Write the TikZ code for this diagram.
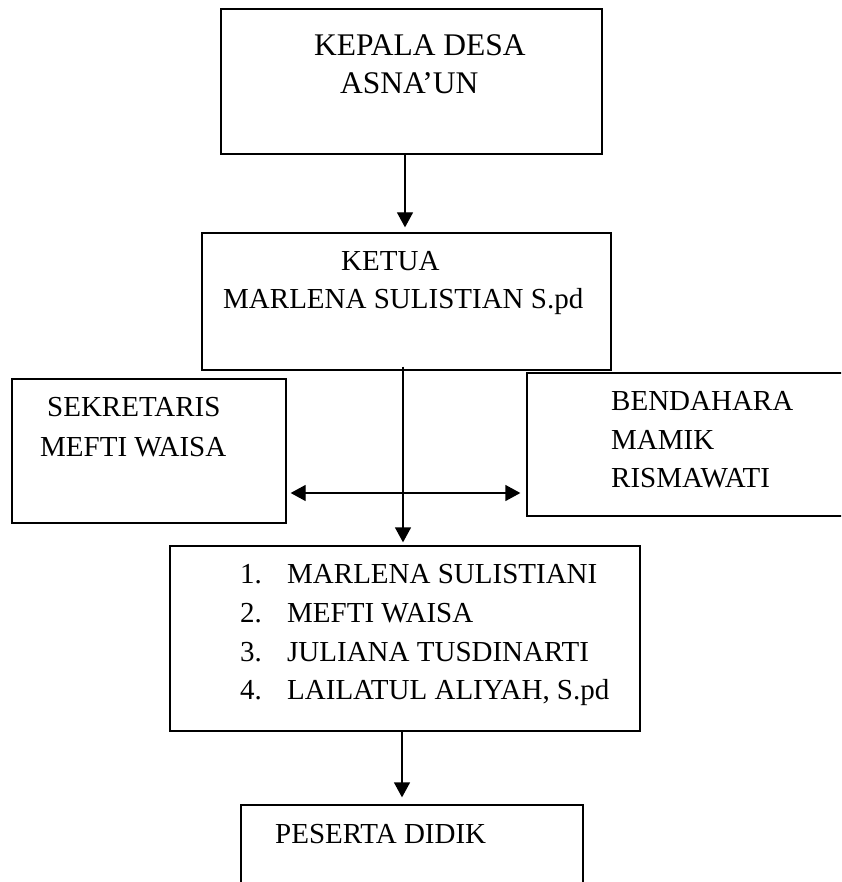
\documentclass[tikz,border=0pt]{standalone}
\usepackage{fontspec}
\setmainfont{Liberation Serif}
\usetikzlibrary{arrows.meta}
\tikzset{
	kotak/.style={draw, line width=1.3pt, inner sep=0pt},
	teks/.style={anchor=base west, inner sep=0pt, font=\fontsize{29pt}{39pt}\selectfont},
	teksbesar/.style={teks, font=\fontsize{31.5pt}{40pt}\selectfont},
	panah/.style={line width=1.3pt, -{Triangle[length=15pt,width=16pt]}},
	panahdua/.style={line width=1.3pt, {Triangle[length=15pt,width=16pt]}-{Triangle[length=15pt,width=16pt]}}
}
\begin{document}
\begin{tikzpicture}[x=1pt, y=-1pt]
	\useasboundingbox (0,0) rectangle (841,882);
	\clip (0,0) rectangle (841,882);
	\fill[white] (0,0) rectangle (841,882);
	% Kotak
	\node[kotak, minimum width=381pt, minimum height=145pt] (kepala) at (411.5,81.5) {};
	\node[kotak, minimum width=409pt, minimum height=137pt] (ketua) at (406.5,301.5) {};
	\node[kotak, minimum width=274pt, minimum height=144pt] (sekretaris) at (149,451) {};
	\node[kotak, minimum width=373pt, minimum height=143pt] (bendahara) at (713.5,444.5) {};
	\node[kotak, minimum width=470pt, minimum height=185pt] (anggota) at (405,638.5) {};
	\node[kotak, minimum width=342pt, minimum height=125pt] (peserta) at (412,867.5) {};
	% Teks kepala desa
	\node[teksbesar] (kepala1) at (314,56) {KEPALA DESA};
	\node[teksbesar] (kepala2) at (340,94) {ASNA’UN};
	% Teks ketua
	\node[teks] (ketua1) at (341,271) {KETUA};
	\node[teks] (ketua2) at (223,308) {MARLENA SULISTIAN S.pd};
	% Teks sekretaris
	\node[teks] (sekretaris1) at (47,416) {SEKRETARIS};
	\node[teks] (sekretaris2) at (40,456) {MEFTI WAISA};
	% Teks bendahara
	\node[teks] (bendahara1) at (611,410) {BENDAHARA};
	\node[teks] (bendahara2) at (611,449) {MAMIK};
	\node[teks] (bendahara3) at (611,487) {RISMAWATI};
	% Teks anggota
	\node[teks] (no1) at (240,583) {1.};
	\node[teks] (no2) at (240,622) {2.};
	\node[teks] (no3) at (240,661) {3.};
	\node[teks] (no4) at (240,699) {4.};
	\node[teks] (nama1) at (287,583) {MARLENA SULISTIANI};
	\node[teks] (nama2) at (287,622) {MEFTI WAISA};
	\node[teks] (nama3) at (287,661) {JULIANA TUSDINARTI};
	\node[teks] (nama4) at (287,699) {LAILATUL ALIYAH, S.pd};
	% Teks peserta didik
	\node[teks] (peserta1) at (275,843) {PESERTA DIDIK};
	% Garis
	\coordinate (poros1) at (405,0);
	\coordinate (poros2) at (403,0);
	\coordinate (poros3) at (402,0);
	\coordinate (garisdua) at (0,493);
	\draw[panah, shorten >=5pt] (kepala.south -| poros1) -- (ketua.north -| poros1);
	\draw[panah, shorten >=3pt] ([yshift=4pt]ketua.south -| poros2) -- (anggota.north -| poros2);
	\draw[panahdua, shorten <=4pt, shorten >=6pt] (sekretaris.east |- garisdua) -- (bendahara.west |- garisdua);
	\draw[panah, shorten >=7pt] (anggota.south -| poros3) -- (peserta.north -| poros3);
\end{tikzpicture}
\end{document}
